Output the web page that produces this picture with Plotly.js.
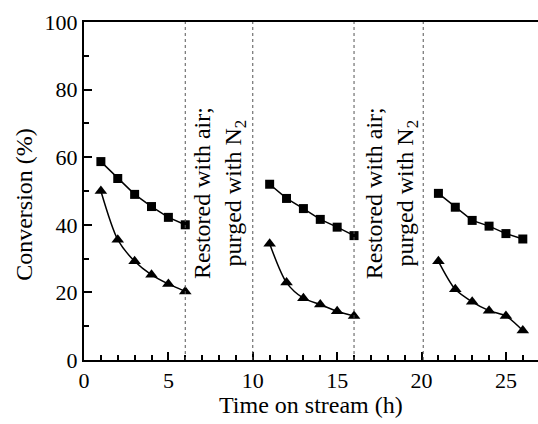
<!DOCTYPE html>
<html><head><meta charset="utf-8">
<script src="https://cdn.plot.ly/plotly-3.0.1.min.js"></script>
<style>html,body{margin:0;padding:0;overflow:hidden;background:#fff}
#chart text{font-family:'Liberation Serif' !important}</style>
</head><body>
<div style="position:absolute;top:0;left:0;font:1px 'Liberation Serif';color:#fff">.</div>
<div id="chart" style="width:538px;height:424px"></div>
<script>
// Time on stream (h), three cycles separated by null gaps
const timeH = [1,2,3,4,5,6,null,11,12,13,14,15,16,null,21,22,23,24,25,26];
// Square series (%)
const squareConv = [58.7,53.7,49.0,45.4,42.2,40.0,null,52.0,47.8,44.8,41.6,39.3,36.8,null,49.3,45.2,41.3,39.6,37.4,35.8];
// Triangle series (%)
const triangleConv = [50.0,35.6,29.2,25.2,22.5,20.3,null,34.4,22.9,18.3,16.4,14.4,13.0,null,29.2,20.9,17.2,14.6,13.0,8.7];
// Regeneration boundaries (h)
const separators = [6, 10, 16, 20.1];
// Regeneration labels: centre time (h)
const noteTimes = [8.0, 18.2];
const noteText = 'Restored with air;<br>purged with N<sub>2</sub>';

const FONT = 'Liberation Serif';

const traces = [
  {x: timeH, y: squareConv, mode: 'lines+markers', connectgaps: false,
   line: {color: '#000', width: 1.5},
   marker: {symbol: 'square', size: 9, color: '#000'}},
  {x: timeH, y: triangleConv, mode: 'lines+markers', connectgaps: false,
   line: {color: '#000', width: 1.5, shape: 'spline', smoothing: 0.8},
   marker: {symbol: 'triangle-up', size: 11, color: '#000'}}
];

const shapes = separators.map(s => ({
  type: 'line', xref: 'x', yref: 'paper', x0: s, x1: s, y0: 0, y1: 1,
  line: {color: '#555', width: 1, dash: 'dot'}
}));

const annotations = noteTimes.map(t => ({
  x: t, y: 49.4, xref: 'x', yref: 'y', text: noteText, showarrow: false,
  textangle: -90, xanchor: 'center', yanchor: 'middle',
  font: {family: FONT, size: 24, color: '#000'}
}));
annotations.push({
  x: 0, y: 0.459, xref: 'paper', yref: 'paper', text: 'Conversion (%)',
  showarrow: false, textangle: -90, xanchor: 'center', yanchor: 'middle', xshift: -60,
  font: {family: FONT, size: 24, color: '#000'}
});
annotations.push({
  x: 0.5, y: 0, xref: 'paper', yref: 'paper', text: 'Time on stream (h)',
  showarrow: false, xanchor: 'center', yanchor: 'top', yshift: -30,
  font: {family: FONT, size: 24, color: '#000'}
});

const layout = {
  width: 538, height: 424,
  margin: {l: 84, r: 0, t: 22, b: 64},
  paper_bgcolor: '#fff', plot_bgcolor: '#fff',
  showlegend: false,
  xaxis: {
    range: [0, 26.9], tickvals: [0,5,10,15,20,25], ticks: 'inside', ticklen: 8, tickwidth: 2,
    tickcolor: '#000', showline: true, linecolor: '#000', linewidth: 2, mirror: true,
    showgrid: false, zeroline: false, tickfont: {family: FONT, size: 22, color: '#000'},
    minor: {dtick: 1, tick0: 0, ticks: 'inside', ticklen: 5, tickwidth: 2, tickcolor: '#000', showgrid: false}
  },
  yaxis: {
    range: [0, 100], tickvals: [0,20,40,60,80,100], ticks: 'inside', ticklen: 8, tickwidth: 2,
    tickcolor: '#000', showline: true, linecolor: '#000', linewidth: 2, mirror: false,
    showgrid: false, zeroline: false, tickfont: {family: FONT, size: 22, color: '#000'},
    minor: {dtick: 10, tick0: 0, ticks: 'inside', ticklen: 5, tickwidth: 2, tickcolor: '#000', showgrid: false}
  },
  shapes: shapes,
  annotations: annotations
};

Plotly.newPlot('chart', traces, layout, {displayModeBar: false});
</script></body></html>
